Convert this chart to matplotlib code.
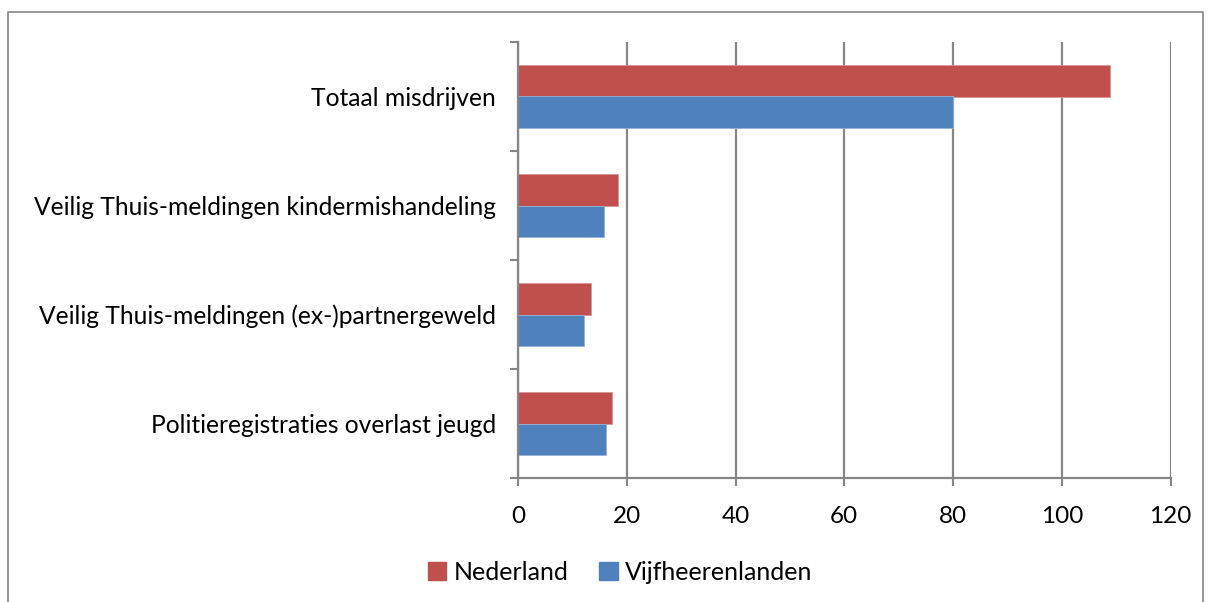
import matplotlib
matplotlib.use("Agg")
import matplotlib.pyplot as plt
import numpy as np
from matplotlib.lines import Line2D
from matplotlib.patches import Patch

categories = [
    "Totaal misdrijven",
    "Veilig Thuis-meldingen kindermishandeling",
    "Veilig Thuis-meldingen (ex-)partnergeweld",
    "Politieregistraties overlast jeugd",
]
nederland = [108.8, 18.3, 13.5, 17.3]
vijfheerenlanden = [80.0, 15.8, 12.2, 16.2]
series_names = ["Nederland", "Vijfheerenlanden"]
x_ticks = [0, 20, 40, 60, 80, 100, 120]

colors = {
    "Nederland": "#C0504D",
    "Vijfheerenlanden": "#4F81BD",
    "grid": "#868686",
}

plt.rcParams["font.family"] = ["Lato", "DejaVu Sans"]

W, H = 1208, 602
fig = plt.figure(figsize=(W / 100, H / 100), dpi=100)
ax = fig.add_axes([518 / W, 1 - 478 / H, (1170.5 - 518) / W, (478 - 42) / H])

n = len(categories)
y = np.arange(n)[::-1]
h = 0.285
ax.barh(y + h / 2, nederland, height=h, color=colors["Nederland"],
        edgecolor="#D99694", linewidth=0.6)
ax.barh(y - h / 2, vijfheerenlanden, height=h, color=colors["Vijfheerenlanden"],
        edgecolor="#95B3D7", linewidth=0.6)

ax.set_xlim(0, 120)
ax.set_ylim(-0.5, n - 0.5)
ax.set_xticks(x_ticks)
ax.set_xticklabels([str(t) for t in x_ticks], fontsize=17.5)
ax.set_yticks(y)
ax.set_yticklabels(categories, fontsize=17.7)
ax.set_yticks(np.arange(n + 1) - 0.5, minor=True)

ax.tick_params(axis="y", which="major", length=0, pad=16)
ax.tick_params(axis="y", which="minor", length=6, width=1.5, color=colors["grid"])
ax.tick_params(axis="x", which="major", length=6, width=1.5, color=colors["grid"], pad=14)

ax.grid(axis="x", color=colors["grid"], linewidth=1.6)
ax.set_axisbelow(True)
for side in ["top", "right"]:
    ax.spines[side].set_visible(False)
for side in ["left", "bottom"]:
    ax.spines[side].set_color(colors["grid"])
    ax.spines[side].set_linewidth(1.6)

handles = [Patch(color=colors[s]) for s in series_names]
fig.legend(handles, series_names, loc="center", bbox_to_anchor=(620 / W, 1 - 572 / H),
           ncol=2, frameon=False, fontsize=18, handlelength=0.75, handleheight=0.75,
           handletextpad=0.3, columnspacing=1.2)

# chart border
bx0, bx1, by0 = 8 / W, 1203 / W, 1 - 12 / H
fig.add_artist(Line2D([bx0, bx0, bx1, bx1], [0, by0, by0, 0], color=colors["grid"],
                      linewidth=1.2, transform=fig.transFigure))

fig.savefig("out.png", dpi=100)
